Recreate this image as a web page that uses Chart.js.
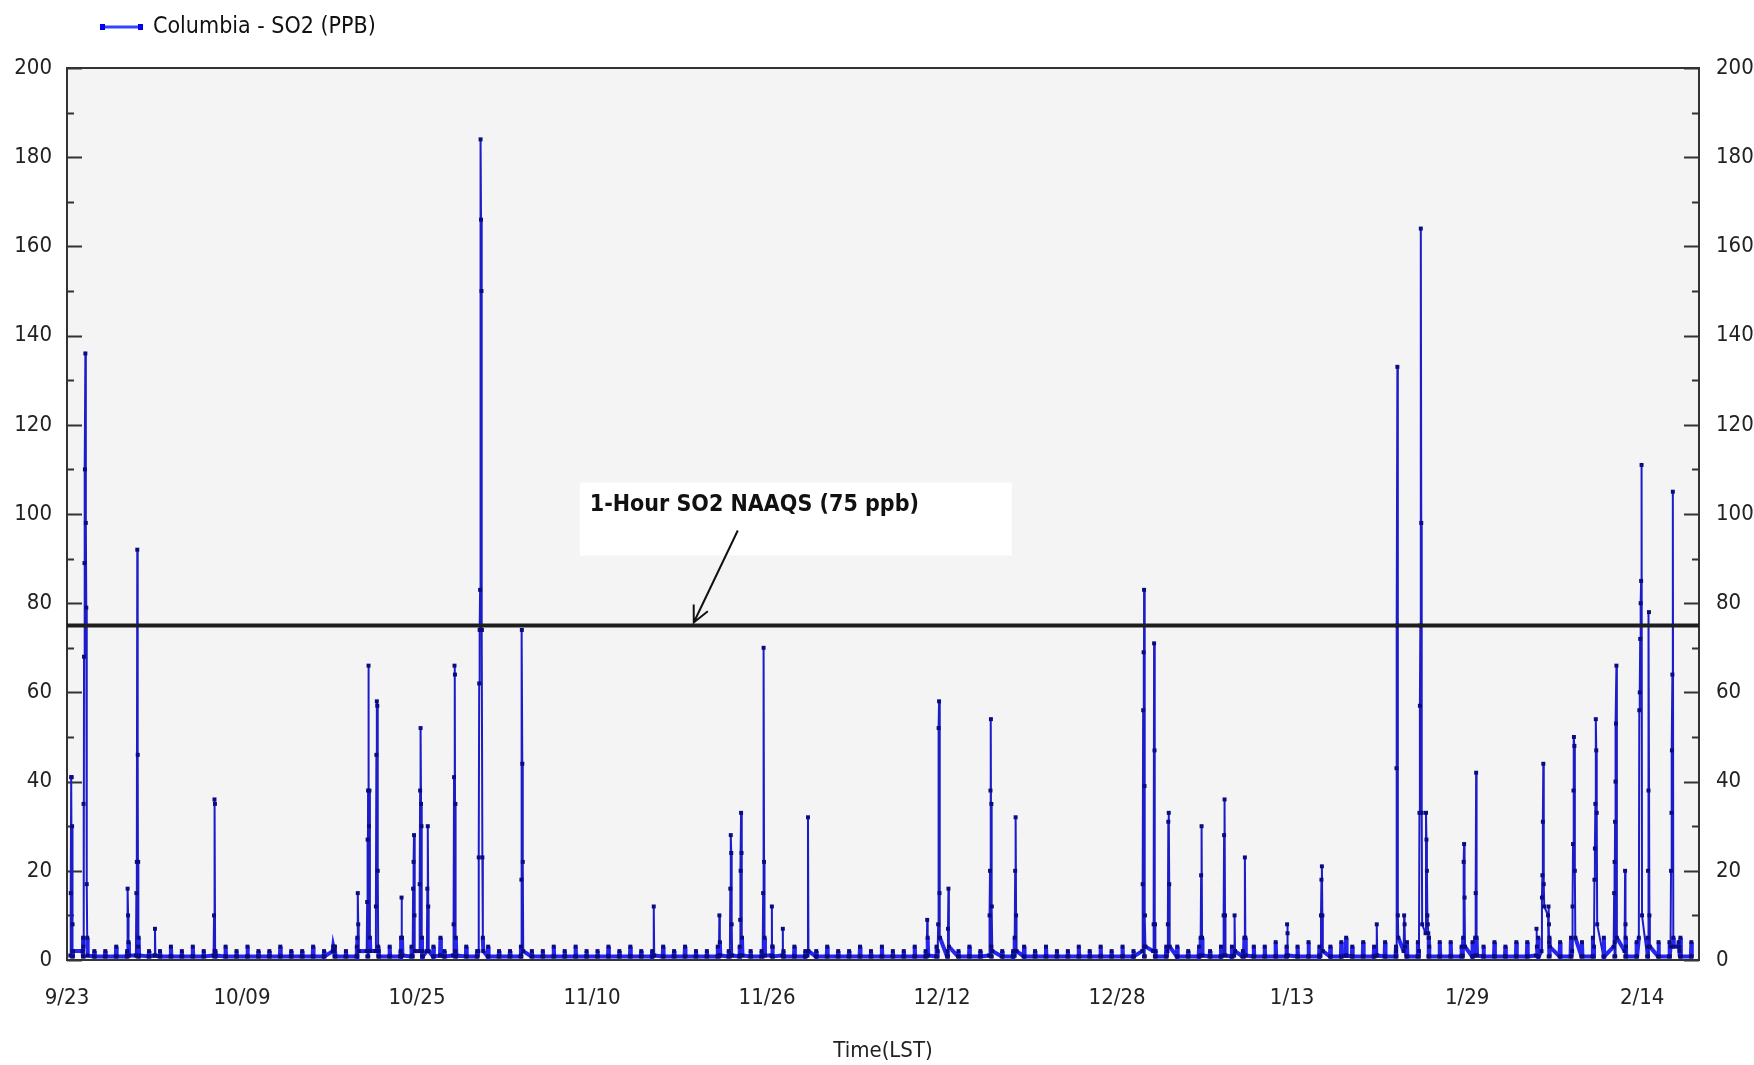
<!DOCTYPE html>
<html>
<head>
<meta charset="utf-8">
<title>Columbia - SO2 (PPB)</title>
<script src="https://cdn.jsdelivr.net/npm/chart.js@4.4.1/dist/chart.umd.min.js"></script>
<style>
  html, body { margin: 0; padding: 0; background: #fff; }
  #wrap { width: 1754px; height: 1065px; }
</style>
</head>
<body>
<div id="wrap"><canvas id="chart"></canvas></div>
<script>
// days since 9/23 00:00 (LST)
const tickDays = [0, 16, 32, 48, 64, 80, 96, 112, 128, 144];
const tickLabels = ['9/23', '10/09', '10/25', '11/10', '11/26', '12/12', '12/28', '1/13', '1/29', '2/14'];
const yTicks = [0, 20, 40, 60, 80, 100, 120, 140, 160, 180, 200];

const seriesLabel = 'Columbia - SO2 (PPB)';
const naaqsLevel = 75;
const naaqsText = '1-Hour SO2 NAAQS (75 ppb)';
const naaqsArrowDay = 57.3;

// quiet hours between the daily small peaks
const quietLevel = 0.8;
// small daily peak (ppb), one per day from 9/23
const combPeak = [
  2, 3, 2, 2, 3, 2, 3, 2, 2, 3, 2, 3, 2, 2, 3, 2,
  3, 2, 2, 3, 2, 2, 3, 2, 3, 2, 3, 2, 2, 3, 2, 3,
  2, 3, 2, 2, 3, 2, 3, 2, 2, 3, 2, 2, 3, 2, 3, 2,
  2, 3, 2, 3, 2, 2, 3, 2, 3, 2, 2, 3, 2, 3, 2, 2,
  3, 2, 3, 2, 2, 3, 2, 2, 3, 2, 3, 2, 2, 3, 2, 3,
  2, 2, 3, 2, 3, 2, 2, 3, 2, 3, 2, 2, 3, 2, 3, 2,
  3, 2, 3, 2, 3, 3, 2, 3, 2, 3, 3, 2, 3, 3, 4, 3,
  3, 4, 3, 3, 4, 3, 4, 3, 4, 3, 4, 4, 5, 4, 4, 3,
  4, 3, 4, 3, 4, 4, 5, 4, 4, 5, 4, 5, 5, 4, 5, 4,
  5, 4, 4, 5, 4
];

// episodes: first hour (days since 9/23) and the hourly values that follow
const eventStart = [
  0.3, 1.43, 5.5, 6.3, 8.0, 13.4, 24.3, 26.5, 27.4, 28.2,
  30.5, 31.6, 32.2, 32.9, 34.1, 35.3, 37.6, 41.5, 53.6, 59.6,
  60.6, 61.5, 63.6, 64.4, 65.4, 67.7, 78.6, 79.6, 80.5, 84.3,
  86.6, 98.3, 99.3, 100.6, 103.6, 105.7, 106.7, 107.6, 111.5, 114.6,
  116.9, 119.7, 121.5, 122.2, 123.6, 124.2, 127.6, 128.7, 134.3, 134.8,
  135.4, 137.6, 139.6, 141.4, 142.4, 143.7, 144.5, 146.6, 147.3
];
const eventHours = [
  [1, 15, 41, 41, 30, 8, 2],
  [2, 5, 35, 68, 89, 110, 136, 98, 79, 17, 5, 1],
  [1, 16, 10, 4, 1],
  [1, 15, 22, 92, 46, 22, 5, 1],
  [1, 7, 1],
  [1, 10, 36, 35, 2, 1],
  [2, 3, 3, 2],
  [1, 5, 15, 8, 2],
  [2, 13, 27, 38, 66, 30, 38, 5, 2],
  [2, 12, 46, 58, 57, 20, 3],
  [1, 5, 14, 5, 1],
  [1, 16, 22, 28, 10, 2],
  [2, 17, 38, 52, 35, 30, 5],
  [2, 16, 30, 12, 2],
  [1, 5, 1],
  [1, 8, 41, 66, 64, 35, 5, 1],
  [2, 23, 62, 74, 83, 184, 166, 150, 74, 23, 5, 2],
  [1, 18, 74, 44, 22, 2],
  [1, 12, 1],
  [1, 10, 4, 1],
  [1, 16, 28, 24, 8, 1],
  [1, 9, 20, 33, 24, 5, 1],
  [1, 15, 70, 22, 5, 1],
  [1, 12, 3],
  [1, 7, 1],
  [1, 32, 2],
  [1, 9, 5, 1],
  [2, 8, 52, 58, 15, 5],
  [1, 7, 16, 3],
  [1, 10, 20, 38, 54, 35, 12, 2],
  [1, 5, 20, 32, 10, 2],
  [2, 17, 56, 69, 83, 39, 10, 3],
  [2, 8, 71, 47, 8, 2],
  [2, 8, 31, 33, 17, 3],
  [1, 5, 19, 30, 5, 1],
  [1, 10, 28, 36, 10, 1],
  [1, 10, 2],
  [1, 5, 23, 5, 1],
  [1, 8, 6, 1],
  [1, 10, 18, 21, 10, 2],
  [1, 5, 1],
  [1, 8, 1],
  [2, 43, 75, 133, 10, 5],
  [2, 10, 8, 3],
  [2, 33, 57, 75, 164, 98, 33, 8],
  [6, 33, 27, 20, 10, 8, 6, 5, 3],
  [1, 5, 22, 26, 14, 3],
  [1, 5, 15, 42, 5, 1],
  [1, 7, 3],
  [2, 14, 19, 31, 44, 17, 12],
  [10, 12, 8, 5, 3],
  [2, 12, 26, 38, 50, 48, 20, 5],
  [3, 18, 25, 35, 54, 47, 33, 8],
  [3, 15, 22, 31, 40, 53, 66, 5],
  [2, 20, 8, 3],
  [5, 56, 60, 72, 80, 85, 111, 10],
  [3, 20, 38, 78, 10, 3],
  [3, 20, 33, 47, 64, 105, 5, 3],
  [3, 4, 3, 2]
];

const fontFamily = '"Liberation Sans Narrow", "DejaVu Sans Condensed", "Liberation Sans", sans-serif';

function buildSeries() {
  const points = [];
  combPeak.forEach((v, d) => {
    points.push({ x: d + 11 / 24, y: quietLevel });
    points.push({ x: d + 12 / 24, y: v });
    points.push({ x: d + 13 / 24, y: quietLevel });
  });
  eventStart.forEach((start, i) => {
    eventHours[i].forEach((v, h) => points.push({ x: start + h / 24, y: v }));
  });
  return points.sort((a, b) => a.x - b.x);
}

// low hours form the thick blue band along the bottom
function isLow(seg) {
  return seg.p0.parsed.y <= 5 && seg.p1.parsed.y <= 5;
}

const chartFrame = {
  id: 'chartFrame',
  beforeDraw(chart) {
    const { ctx, chartArea: a } = chart;
    ctx.save();
    ctx.fillStyle = '#f4f4f4';
    ctx.fillRect(a.left, a.top, a.right - a.left, a.bottom - a.top);
    ctx.restore();
  },
  beforeDatasetsDraw(chart) {
    const { ctx, chartArea: a } = chart;
    const y = chart.scales.y;
    ctx.save();
    ctx.strokeStyle = '#333';
    ctx.lineWidth = 2;
    ctx.strokeRect(a.left, a.top, a.right - a.left, a.bottom - a.top);
    for (let v = 0; v <= 200; v += 10) {
      const py = Math.round(y.getPixelForValue(v)) + 0.5;
      const len = v % 20 === 0 ? 15 : 7;
      ctx.beginPath();
      ctx.moveTo(a.left, py);
      ctx.lineTo(a.left + len, py);
      ctx.moveTo(a.right, py);
      ctx.lineTo(a.right - len, py);
      ctx.stroke();
    }
    ctx.restore();
  },
  afterDatasetsDraw(chart) {
    const { ctx } = chart;
    const tipX = chart.scales.x.getPixelForValue(naaqsArrowDay);
    const tipY = chart.scales.y.getPixelForValue(naaqsLevel);
    ctx.save();
    ctx.fillStyle = '#ffffff';
    ctx.fillRect(tipX - 114, tipY - 143, 432, 73);
    ctx.fillStyle = '#111';
    ctx.font = 'bold 23px ' + fontFamily;
    ctx.textBaseline = 'middle';
    ctx.fillText(naaqsText, tipX - 104, tipY - 120);

    const sx = tipX + 44, sy = tipY - 95;
    const ex = tipX, ey = tipY - 3;
    const ang = Math.atan2(ey - sy, ex - sx);
    ctx.strokeStyle = '#111';
    ctx.lineWidth = 2;
    ctx.beginPath();
    ctx.moveTo(sx, sy);
    ctx.lineTo(ex, ey);
    ctx.moveTo(ex - 18 * Math.cos(ang - 0.45), ey - 18 * Math.sin(ang - 0.45));
    ctx.lineTo(ex, ey);
    ctx.lineTo(ex - 18 * Math.cos(ang + 0.45), ey - 18 * Math.sin(ang + 0.45));
    ctx.stroke();
    ctx.restore();
  },
  afterDraw(chart) {
    const { ctx } = chart;
    ctx.save();
    ctx.strokeStyle = '#3344ff';
    ctx.lineWidth = 3;
    ctx.beginPath();
    ctx.moveTo(100, 27);
    ctx.lineTo(143, 27);
    ctx.stroke();
    ctx.fillStyle = '#0000ee';
    ctx.fillRect(100, 24, 5, 6);
    ctx.fillRect(138, 24, 5, 6);
    ctx.fillStyle = '#111';
    ctx.font = '23px ' + fontFamily;
    ctx.textBaseline = 'middle';
    ctx.fillText(seriesLabel, 153, 27);
    ctx.restore();
  }
};

const tickFont = { family: fontFamily, size: 22 };

new Chart(document.getElementById('chart'), {
  type: 'line',
  data: {
    datasets: [
      {
        label: 'NAAQS',
        data: [{ x: 0, y: naaqsLevel }, { x: 149.2, y: naaqsLevel }],
        borderColor: '#1e1e1e',
        borderWidth: 4,
        pointRadius: 0,
        order: 0,
      },
      {
        label: seriesLabel,
        data: buildSeries(),
        borderColor: '#1c1cc8',
        borderWidth: 2,
        segment: {
          borderWidth: (seg) => (isLow(seg) ? 4 : 2),
          borderColor: (seg) => (isLow(seg) ? '#2626ee' : '#1c1cc8'),
        },
        pointStyle: 'rect',
        pointRadius: 2.8,
        pointBorderWidth: 0,
        pointBackgroundColor: '#0b0b80',
        order: 1,
      },
    ],
  },
  options: {
    responsive: true,
    maintainAspectRatio: false,
    animation: false,
    parsing: false,
    layout: { padding: { top: 68, left: 0, right: 0, bottom: 0 } },
    plugins: {
      legend: { display: false },
      tooltip: { enabled: false },
    },
    scales: {
      x: {
        type: 'linear',
        min: 0,
        max: 149.2,
        grid: { display: false, drawTicks: false },
        border: { display: false },
        afterBuildTicks: (scale) => {
          scale.ticks = tickDays.map((v) => ({ value: v }));
        },
        afterFit: (scale) => {
          scale.height = 105;
        },
        ticks: {
          autoSkip: false,
          maxRotation: 0,
          padding: 25,
          color: '#222',
          font: tickFont,
          callback: (v) => tickLabels[tickDays.indexOf(v)],
        },
        title: {
          display: true,
          text: 'Time(LST)',
          color: '#222',
          font: tickFont,
          padding: { top: 0, bottom: 1 },
        },
      },
      y: {
        position: 'left',
        min: 0,
        max: 200,
        grid: { display: false, drawTicks: false },
        border: { display: false },
        afterBuildTicks: (scale) => {
          scale.ticks = yTicks.map((v) => ({ value: v }));
        },
        afterFit: (scale) => {
          scale.width = 67;
        },
        ticks: { padding: 15, color: '#222', font: tickFont },
      },
      y2: {
        position: 'right',
        min: 0,
        max: 200,
        grid: { display: false, drawTicks: false },
        border: { display: false },
        afterBuildTicks: (scale) => {
          scale.ticks = yTicks.map((v) => ({ value: v }));
        },
        afterFit: (scale) => {
          scale.width = 55;
        },
        ticks: { padding: 17, color: '#222', font: tickFont },
      },
    },
  },
  plugins: [chartFrame],
});
</script>
</body>
</html>
